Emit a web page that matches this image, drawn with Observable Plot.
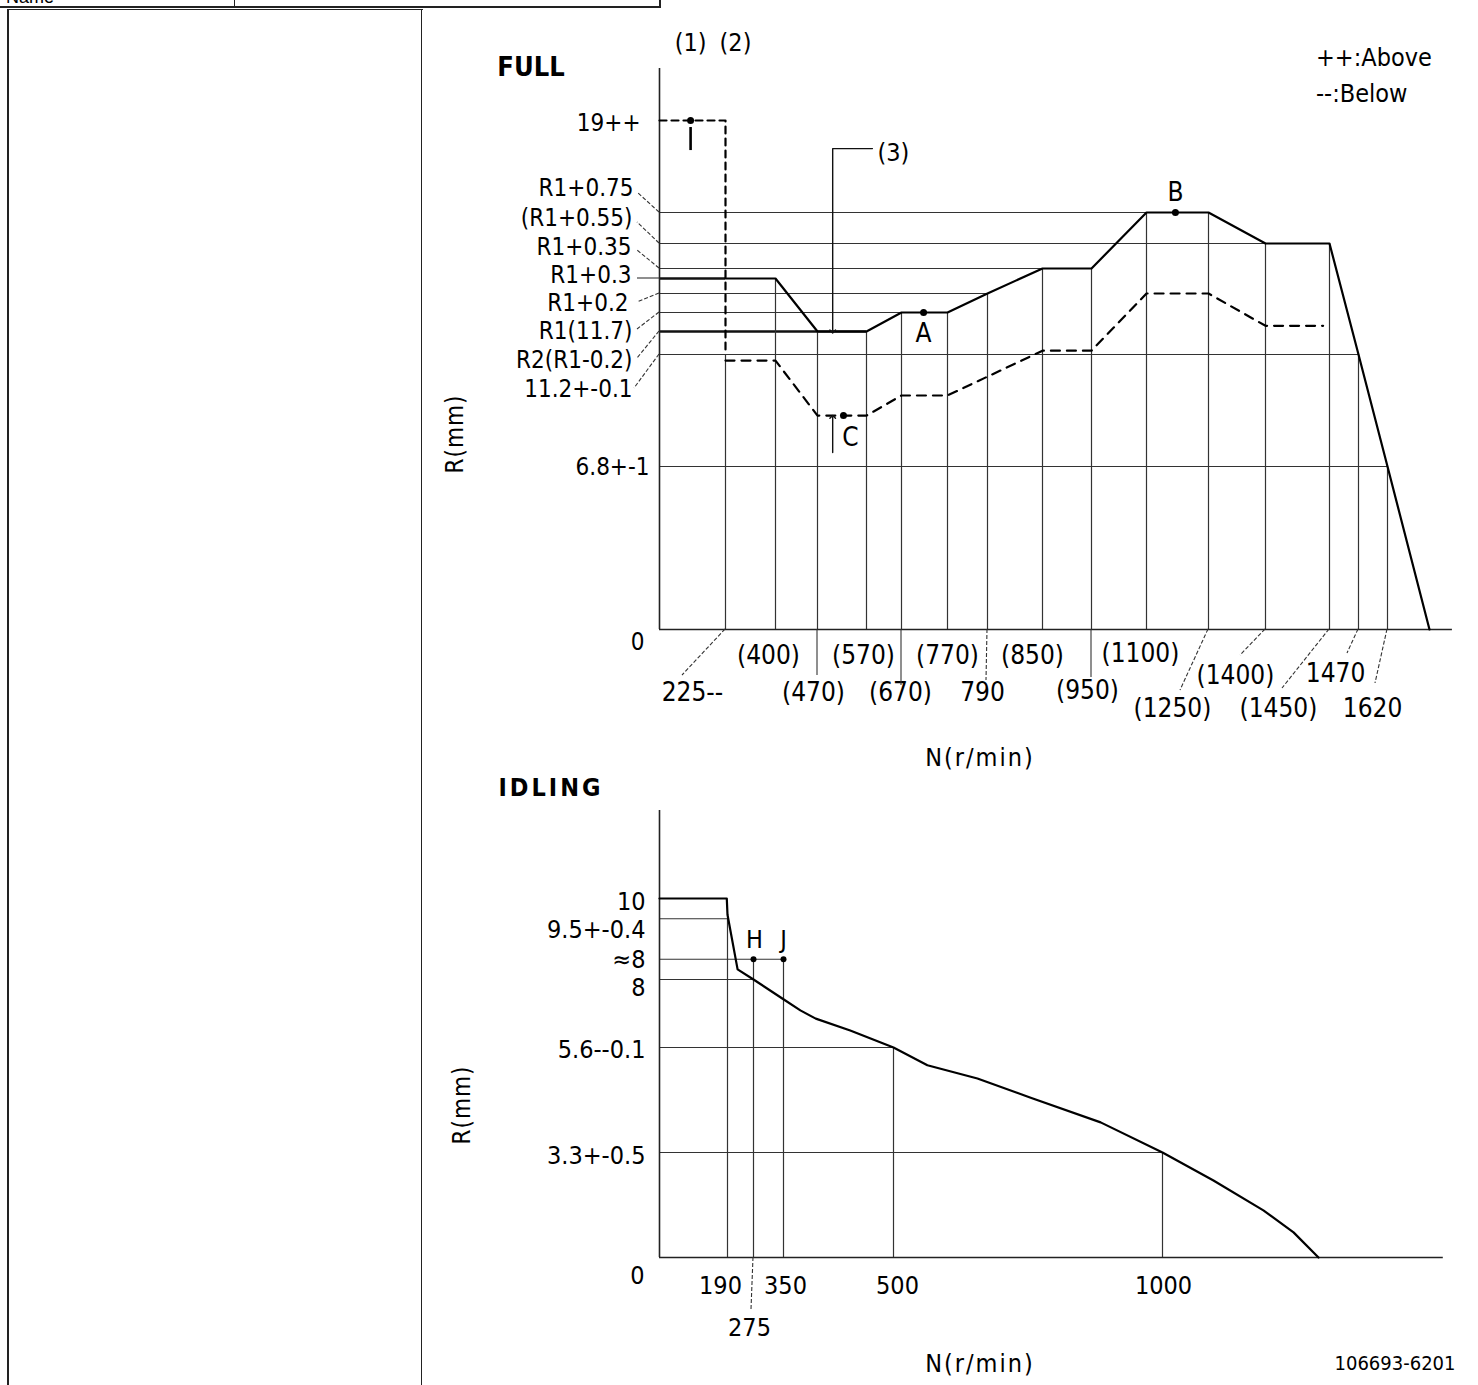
<!DOCTYPE html>
<html>
<head>
<meta charset="utf-8">
<script src="https://cdn.jsdelivr.net/npm/d3@7"></script>
<script src="https://cdn.jsdelivr.net/npm/@observablehq/plot@0.6"></script>
<style>
  html, body { margin: 0; padding: 0; background: #fff; }
  body { position: relative; width: 1478px; height: 1385px; overflow: hidden;
         font-family: "DejaVu Sans Condensed", "Liberation Sans Narrow", "Liberation Sans", sans-serif; color: #000; }
  .abs { position: absolute; white-space: nowrap; line-height: 1; }
  .c { transform: translate(-50%, -50%); }
  .l { transform: translate(0, -50%); }
  .rot { transform: translate(-50%, -50%) rotate(-90deg); }
  .hl { position: absolute; background: #222; }
  svg { overflow: visible; }
</style>
</head>
<body>
<!-- table frame -->
<div class="abs" style="left:6px;top:-12px;font-size:18px;font-family:'Liberation Sans',sans-serif;">Name</div>
<div class="hl" style="left:0;top:6px;width:661px;height:2px;"></div>
<div class="hl" style="left:234px;top:0;width:1px;height:7px;"></div>
<div class="hl" style="left:659px;top:0;width:2px;height:8px;"></div>
<div class="hl" style="left:7px;top:9px;width:416px;height:1px;"></div>
<div class="hl" style="left:7px;top:9px;width:2px;height:1376px;"></div>
<div class="hl" style="left:421px;top:9px;width:1px;height:1376px;"></div>

<div id="full" class="abs" style="left:0;top:0;"></div>
<div id="idle" class="abs" style="left:0;top:770px;"></div>

<!-- titles, legend, captions -->
<div class="abs c" style="left:531px;top:66px;font-size:27px;font-weight:bold;">FULL</div>
<div class="abs l" style="left:1316px;top:57px;font-size:25px;">++:Above</div>
<div class="abs l" style="left:1316px;top:93px;font-size:25px;">--:Below</div>
<div class="abs c" style="left:980px;top:757px;font-size:25px;letter-spacing:2px;">N(r/min)</div>
<div class="abs rot" style="left:455px;top:434px;font-size:24px;letter-spacing:1px;">R(mm)</div>
<div class="abs c" style="left:551px;top:787px;font-size:25px;font-weight:bold;letter-spacing:3px;">IDLING</div>
<div class="abs rot" style="left:462px;top:1105px;font-size:24px;letter-spacing:1px;">R(mm)</div>
<div class="abs c" style="left:980px;top:1363px;font-size:25px;letter-spacing:2px;">N(r/min)</div>
<div class="abs c" style="left:1395px;top:1363px;font-size:20px;">106693-6201</div>

<script>
const FONT = '"DejaVu Sans Condensed", "Liberation Sans Narrow", "Liberation Sans", sans-serif';

// ================= FULL: data =================
// upper limit (solid) curve
const fullUpperN = [225, 400, 470, 570, 670, 770, 790, 850, 950, 1100, 1250, 1400, 1450, 1470, 1620, 1840];
const fullUpperR = [12.0, 12.0, 11.5, 11.5, 11.7, 11.7, 11.9, 12.05, 12.05, 12.45, 12.45, 12.25, 12.25, 11.2, 6.8, 0];
// lower limit (dashed) curve
const fullLowerN = [225, 400, 470, 570, 670, 770, 850, 950, 1100, 1250, 1400, 1445];
const fullLowerR = [10.96, 10.96, 8.8, 8.8, 9.59, 9.59, 11.25, 11.25, 11.9, 11.9, 11.56, 11.56];
// rack levels on the R axis
const fullLevelR = [19, 12.45, 12.25, 12.05, 12.0, 11.9, 11.7, 11.5, 11.2, 6.8, 0];
const fullLevelLabel = ["19++", "R1+0.75", "(R1+0.55)", "R1+0.35", "R1+0.3", "R1+0.2", "R1(11.7)", "R2(R1-0.2)", "11.2+-0.1", "6.8+-1", "0"];
const fullLevelEndN = [null, 1100, 1400, 850, 225, 790, 670, 570, 1470, 1620, null];
// speed ticks on the N axis
const fullTickN = [225, 400, 470, 570, 670, 770, 790, 850, 950, 1100, 1250, 1400, 1450, 1470, 1620];
const fullTickLabel = ["225--", "(400)", "(470)", "(570)", "(670)", "(770)", "790", "(850)", "(950)", "(1100)", "(1250)", "(1400)", "(1450)", "1470", "1620"];
const fullTickTopR = [11.2, 12.0, 11.5, 11.5, 11.7, 11.7, 11.9, 12.05, 12.05, 12.45, 12.45, 12.25, 12.25, 11.2, 6.8];
// marked points
const fullPointName = ["1", "A", "B", "C"];
const fullPointN = [106, 718, 1170, 523];
const fullPointR = [19, 11.7, 12.45, 8.8];
// point (3) measuring position
const mark3N = 501, mark3TopR = 17.0, mark3EndN = 587, mark3R = 11.5, mark3LowR = 7.35, mark3LowTipR = 8.75;

// ================= FULL: layout =================
const fullScaleN = [0, 225, 400, 470, 570, 670, 770, 790, 850, 950, 1100, 1250, 1400, 1450, 1470, 1620, 1840];
const fullScaleX = [659, 725, 775, 817, 866, 901, 947, 987, 1042, 1091, 1146, 1208, 1265, 1329, 1358, 1387, 1429];
const fullScaleR = [0, 6.8, 11.2, 11.5, 11.7, 11.9, 12.0, 12.05, 12.25, 12.45, 19, 22.7];
const fullScaleY = [629, 466, 354, 331, 312, 293, 278, 268, 243, 212, 120, 68];
const fullAxisEndN = 1960;
const fullLevelDx = [-19, -26, -27, -28, -28, -31, -27, -27, -27, -10, -22];
const fullLevelDy = [3, -24, -25, -21, -3, 10, 19, 29, 35, 1, 13];
const fullTickDx = [-33, -7, -4, -3, -1, 0, -5, -10, -4, -6, -36, -30, -51, -23, -15];
const fullTickDy = [63, 26, 63, 26, 63, 26, 63, 26, 61, 24, 79, 46, 79, 44, 79];
const fullLevelLeader = [null, [-21, -19, 1], [-22, -21, 1], [-22, -18, 1], [-22, 0, 0], [-22, 9, 1], [-22, 17, 1], [-22, 27, 1], [-25, 34, 1], null, null];
const fullTickLeader = [[-43, 46, 1], null, [0, 46, 0], null, [0, 56, 0], null, [-1, 51, 1], null, [0, 48, 0], null,
                        [-28, 61, 1], [-25, 26, 1], [-47, 59, 1], [-11, 24, 1], [-12, 54, 1]];

// ================= IDLING: data =================
const idleN = [0, 188, 190, 223, 275, 347, 373, 394, 441, 500, 563, 656, 755, 885, 1000, 1098, 1194, 1252, 1300];
const idleR = [10, 10, 9.6, 8.25, 8, 7.33, 6.91, 6.62, 6.2, 5.6, 5.21, 4.92, 4.5, 3.96, 3.3, 2.42, 1.48, 0.79, 0];
const idleLevelR = [10, 9.5, 8.5, 8, 5.6, 3.3, 0];
const idleLevelLabel = ["10", "9.5+-0.4", "≈8", "8", "5.6--0.1", "3.3+-0.5", "0"];
const idleLevelEndN = [null, 190, 350, 275, 500, 1000, null];
const idleTickN = [190, 275, 350, 500, 1000];
const idleTickLabel = ["190", "275", "350", "500", "1000"];
const idleTickTopR = [9.5, 8.5, 8.5, 5.6, 3.3];
const idlePointName = ["H", "J"];
const idlePointN = [275, 350];
const idlePointR = [8.5, 8.5];

// ================= IDLING: layout =================
const idleScaleN = [0, 190, 275, 350, 500, 1000, 1300];
const idleScaleX = [659, 727, 753, 783, 893, 1162, 1318];
const idleScaleR = [0, 3.3, 5.6, 8, 10, 12.17];
const idleScaleY = [487, 382, 277, 209, 128, 40];
const idleAxisEndN = 1540;
const idleLevelDx = [-14, -14, -14, -14, -14, -14, -22];
const idleLevelDy = [3, 11, 1, 8, 2, 3, 18];
const idleTickDx = [-7, -4, 2, 4, 1];
const idleTickDy = [28, 70, 28, 28, 28];
const idleTickLeader = [null, [-2, 52, 1], null, null, null];

// ================= helpers =================
const zip = (a, b) => a.map((N, i) => ({N, R: b[i]}));
const GRID = "#333";

function textMarks(Ns, Rs, labels, dxs, dys, anchor, size) {
  return labels.map((t, i) => Plot.text([{N: Ns[i], R: Rs[i], t}], {
    x: "N", y: "R", text: "t", dx: dxs[i], dy: dys[i],
    textAnchor: typeof anchor === "function" ? anchor(i) : anchor,
    fontSize: size, fontFamily: FONT, fill: "#000"
  }));
}

function addLeaders(svg, Ns, Rs, leaders) {
  const sx = svg.scale("x"), sy = svg.scale("y");
  const g = d3.select(svg).append("g").attr("fill", "none").attr("stroke", GRID).attr("stroke-width", 1.1);
  leaders.forEach((l, i) => {
    if (!l) return;
    const x0 = sx.apply(Ns[i]), y0 = sy.apply(Rs[i]);
    g.append("line").attr("x1", x0).attr("y1", y0).attr("x2", x0 + l[0]).attr("y2", y0 + l[1])
      .attr("stroke-dasharray", l[2] ? "4,2" : null);
  });
}

const svgStyle = {fontFamily: FONT, overflow: "visible", background: "transparent", color: "#000"};

// ================= FULL plot =================
{
  const upper = zip(fullUpperN, fullUpperR);
  const lower = zip(fullLowerN, fullLowerR);
  const levels = fullLevelR.map((R, i) => ({R, end: fullLevelEndN[i]}));
  const thin = levels.filter(d => d.end != null && d.R !== 11.5 && d.R !== 12.0);
  const thick = levels.filter(d => d.R === 11.5 || d.R === 12.0);
  const ticks = fullTickN.map((N, i) => ({N, top: fullTickTopR[i]}));
  const pts = fullPointN.map((N, i) => ({N, R: fullPointR[i], name: fullPointName[i]}));

  const svg = Plot.plot({
    width: 1478, height: 770, margin: 0,
    x: {type: "linear", domain: fullScaleN, range: fullScaleX, axis: null},
    y: {type: "linear", domain: fullScaleR, range: fullScaleY, axis: null},
    style: svgStyle,
    marks: [
      Plot.ruleY(thin, {y: "R", x1: 0, x2: "end", stroke: GRID, strokeWidth: 1.2}),
      Plot.ruleY(thick, {y: "R", x1: 0, x2: "end", stroke: "#111", strokeWidth: 2.4}),
      Plot.ruleX(ticks, {x: "N", y1: 0, y2: "top", stroke: GRID, strokeWidth: 1.2}),
      Plot.ruleX([0], {y1: 0, y2: fullScaleR[fullScaleR.length - 1], stroke: "#222", strokeWidth: 1.6}),
      Plot.ruleY([0], {x1: 0, x2: fullAxisEndN, stroke: "#222", strokeWidth: 1.6}),
      // 19++ dashed limit
      Plot.line([{N: 0, R: 19}, {N: 225, R: 19}, {N: 225, R: 11.2}], {x: "N", y: "R", stroke: "#000", strokeWidth: 2.2, strokeDasharray: "7,5"}),
      // curves
      Plot.line(upper, {x: "N", y: "R", stroke: "#000", strokeWidth: 2.2}),
      Plot.line(lower, {x: "N", y: "R", stroke: "#000", strokeWidth: 2.2, strokeDasharray: "9,7"}),
      // (3) measuring arrows
      Plot.line([{N: mark3EndN, R: mark3TopR}, {N: mark3N, R: mark3TopR}, {N: mark3N, R: mark3R}],
        {x: "N", y: "R", stroke: "#111", strokeWidth: 1.4, markerEnd: "arrow"}),
      Plot.line([{N: mark3N, R: mark3LowR}, {N: mark3N, R: mark3LowTipR}],
        {x: "N", y: "R", stroke: "#111", strokeWidth: 1.4, markerEnd: "arrow"}),
      // point 1 marker bar
      Plot.ruleX([{N: fullPointN[0]}], {x: "N", y1: 16.86, y2: 18.5, stroke: "#000", strokeWidth: 2.6}),
      Plot.dot(pts, {x: "N", y: "R", r: 3.5, fill: "#000", stroke: "none"}),
      // labels
      ...textMarks(fullLevelLabel.map(() => 0), fullLevelR, fullLevelLabel, fullLevelDx, fullLevelDy,
                   i => i === fullLevelLabel.length - 1 ? "middle" : "end", 24),
      ...textMarks(fullTickN, fullTickN.map(() => 0), fullTickLabel, fullTickDx, fullTickDy, "middle", 26),
      ...textMarks(fullPointN.slice(1), fullPointR.slice(1), fullPointName.slice(1), [0, 0, 7], [21, -20, 22], "middle", 26),
      ...textMarks([fullPointN[0], 225], [19, 19], ["(1)", "(2)"], [0, 10], [-78, -78], "middle", 25),
      ...textMarks([mark3EndN], [mark3TopR], ["(3)"], [21], [4], "middle", 25)
    ]
  });
  addLeaders(svg, fullLevelR.map(() => 0), fullLevelR, fullLevelLeader);
  addLeaders(svg, fullTickN, fullTickN.map(() => 0), fullTickLeader);
  document.getElementById("full").appendChild(svg);
}

// ================= IDLING plot =================
{
  const curve = zip(idleN, idleR);
  const levels = idleLevelR.map((R, i) => ({R, end: idleLevelEndN[i]})).filter(d => d.end != null);
  const ticks = idleTickN.map((N, i) => ({N, top: idleTickTopR[i]}));
  const pts = idlePointN.map((N, i) => ({N, R: idlePointR[i]}));

  const svg = Plot.plot({
    width: 1478, height: 615, margin: 0,
    x: {type: "linear", domain: idleScaleN, range: idleScaleX, axis: null},
    y: {type: "linear", domain: idleScaleR, range: idleScaleY, axis: null},
    style: svgStyle,
    marks: [
      Plot.ruleY(levels, {y: "R", x1: 0, x2: "end", stroke: GRID, strokeWidth: 1.2}),
      Plot.ruleX(ticks, {x: "N", y1: 0, y2: "top", stroke: GRID, strokeWidth: 1.2}),
      Plot.ruleX([0], {y1: 0, y2: idleScaleR[idleScaleR.length - 1], stroke: "#222", strokeWidth: 1.6}),
      Plot.ruleY([0], {x1: 0, x2: idleAxisEndN, stroke: "#222", strokeWidth: 1.6}),
      Plot.line(curve, {x: "N", y: "R", stroke: "#000", strokeWidth: 2.2}),
      Plot.dot(pts, {x: "N", y: "R", r: 3, fill: "#000", stroke: "none"}),
      ...textMarks(idleLevelR.map(() => 0), idleLevelR, idleLevelLabel, idleLevelDx, idleLevelDy,
                   i => i === idleLevelLabel.length - 1 ? "middle" : "end", 25),
      ...textMarks(idleTickN, idleTickN.map(() => 0), idleTickLabel, idleTickDx, idleTickDy, "middle", 25),
      ...textMarks(idlePointN, idlePointR, idlePointName, [1, 0], [-19, -19], "middle", 25)
    ]
  });
  addLeaders(svg, idleTickN, idleTickN.map(() => 0), idleTickLeader);
  document.getElementById("idle").appendChild(svg);
}
</script>
</body>
</html>
